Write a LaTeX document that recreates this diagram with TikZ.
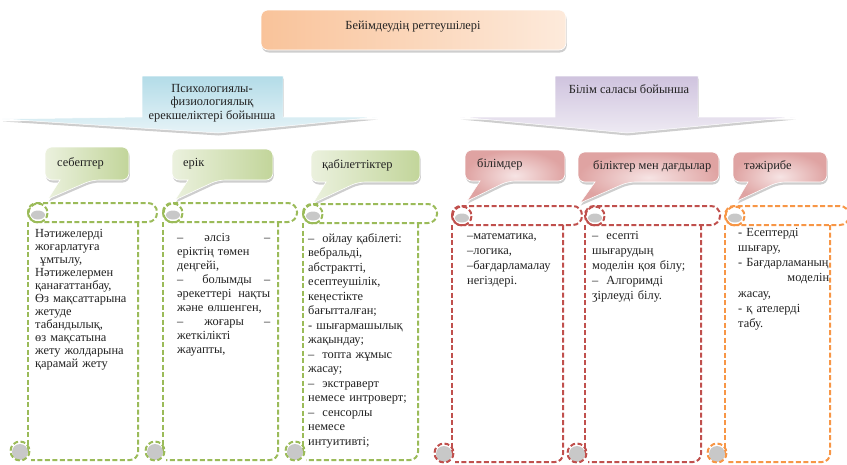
\documentclass[tikz,border=0pt]{standalone}
\usepackage{fontspec}
\setmainfont{Liberation Serif}
\usetikzlibrary{shadows}
\definecolor{grn}{HTML}{9BBB59}
\definecolor{redd}{HTML}{C0504D}
\definecolor{orng}{HTML}{F79646}
\definecolor{peachA}{HTML}{F9C39A}
\definecolor{peachB}{HTML}{FDEADB}
\definecolor{blueA}{HTML}{B3DCE8}
\definecolor{blueB}{HTML}{E6F3F7}
\definecolor{lavA}{HTML}{CFC3DE}
\definecolor{lavB}{HTML}{EEEAF3}
\definecolor{grA}{HTML}{EBF1DE}
\definecolor{grB}{HTML}{C2D59A}
\definecolor{rdA}{HTML}{F6E4E4}
\definecolor{rdB}{HTML}{DFA3A2}
\definecolor{curlgray}{HTML}{C8C8C8}
\definecolor{ink}{HTML}{222222}
\tikzset{
  txt/.style={font=\fontsize{12.4}{13}\selectfont, inner sep=0pt, anchor=base west, align=left, text=ink},
  scrl/.style={line width=2pt, dash pattern=on 5pt off 2.5pt},
  shad/.style={drop shadow={opacity=0.35, shadow xshift=0.8pt, shadow yshift=-2.5pt, fill=black!55}},
  greenbub/.style={shad, left color=grA, right color=grB, draw=white, line width=0.6pt},
  redbub/.style={shad, inner color=rdA, outer color=rdB, draw=white, line width=0.6pt},
}
% bubble: x0 y0 x1 y1 b1 b2 tipx tipy style
\newcommand\bubblepath[9]{%
  \path[#9, rounded corners=7] (#1,#2) -- (#3,#2) -- (#3,#4) -- (#6,#4) [sharp corners] -- (#7,#8) -- (#5,#4) [rounded corners=7] -- (#1,#4) -- cycle;}
% scroll: L R T B colour
\newcommand\scrollshape[5]{%
  \begin{scope}[draw=#5, scrl]
    \draw[rounded corners=9] (#1,#3) rectangle ({#2+19},{#3+19});
    \fill[curlgray] ({#1+10},{#3+12}) ellipse [x radius=7, y radius=4.5];
    \draw ({#1+10},{#3+10}) circle [radius=9.5];
    \draw ({#1},{#3+19}) -- ({#1},{#4-6});
    \draw[rounded corners=8] ({#2},{#3+19}) -- ({#2},{#4}) -- ({#1+3},{#4});
    \fill[curlgray] ({#1-8},{#4-8}) circle [radius=8];
    \draw ({#1-8},{#4-9}) circle [radius=9.5];
  \end{scope}}
\begin{document}
\begin{tikzpicture}[x=1pt,y=-1pt]
\useasboundingbox (0,0) rectangle (847,464);

% title
\path[shad, left color=peachA, right color=peachB, draw=white, line width=0.6pt, rounded corners=7] (261,10) rectangle (566,50);
\node[txt, anchor=base] (title) at (413,29) {Бейімдеудің реттеушілері};

% arrow callouts
\path[shad, top color=blueA, bottom color=blueB, draw=white, line width=0.5pt]
  (142,76) -- (283,76) -- (283,117) -- (377,117) -- (218,133) -- (2,119) -- (142,117) -- cycle;
\node[txt, anchor=base, align=center, font=\fontsize{12.4}{13.5}\selectfont] (psy) at (212,119)
  {Психологиялы-\\физиологиялық\\ерекшеліктері бойынша};
\path[shad, top color=lavA, bottom color=lavB, draw=white, line width=0.5pt]
  (555,76) -- (698,76) -- (698,117) -- (795,117) -- (627,133) -- (460,117) -- (555,117) -- cycle;
\node[txt, anchor=base] (bil) at (629,93) {Білім саласы бойынша};

% speech bubbles
\bubblepath{45}{147}{129}{180}{60}{92}{48}{199}{greenbub}
\node[txt] (sebep) at (57,166) {себептер};
\bubblepath{172}{149}{273}{180}{188}{218}{175}{200}{greenbub}
\node[txt] (erik) at (183,166) {ерік};
\bubblepath{311}{150}{420}{182}{326}{358}{313}{203}{greenbub}
\node[txt] (kabil) at (322,168) {қабілеттіктер};
\bubblepath{465}{150}{565}{181}{480}{508}{467}{201}{redbub}
\node[txt] (bilim) at (477,167) {білімдер};
\bubblepath{578}{152}{719}{182}{595}{628}{580}{203}{redbub}
\node[txt] (bilik) at (593,169) {біліктер мен дағдылар};
\bubblepath{733}{152}{827}{182}{748}{778}{737}{201}{redbub}
\node[txt] (tazh) at (744,169) {тәжірибе};

% scrolls
\scrollshape{28}{138}{203}{460}{grn}
\scrollshape{163}{278}{203}{460}{grn}
\scrollshape{303}{418}{204}{460}{grn}
\scrollshape{452}{563}{206}{462}{redd}
\scrollshape{585}{701}{206}{462}{redd}
\scrollshape{725}{830}{206}{462}{orng}

% scroll texts
\node[txt, text width=100pt] (t1) at (35,237)
{Нәтижелерді\\жоғарлатуға\\\hspace*{5pt}ұмтылу,\\Нәтижелермен\\қанағаттанбау,\\Өз мақсаттарына\\жетуде\\табандылық,\\өз мақсатына\\жету жолдарына\\қарамай жету};

\node[txt, text width=93pt, font=\fontsize{12.4}{14}\selectfont] (t2) at (177,241)
{–\hspace{21pt}әлсіз\hfill–\\еріктің төмен\\деңгейі,\\–\hspace{19pt}болымды\hfill–\\әрекеттері\hfill нақты\\және өлшенген,\\–\hspace{21pt}жоғары\hfill–\\жеткілікті\\жауапты,};

\node[txt, text width=105pt, font=\fontsize{12.4}{14.5}\selectfont] (t3) at (308,242)
{–\hspace{8pt}ойлау қабілеті:\\вебральді,\\абстрактті,\\есептеушілік,\\кеңестікте\\бағытталған;\\- шығармашылық\\жақындау;\\–\hspace{8pt}топта жұмыс\\жасау;\\–\hspace{8pt}экстраверт\\немесе интроверт;\\–\hspace{8pt}сенсорлы\\немесе\\интуитивті;};

\node[txt, text width=95pt, font=\fontsize{12.4}{15}\selectfont] (t4) at (467,239)
{–математика,\\–логика,\\–бағдарламалау\\негіздері.};

\node[txt, text width=105pt, font=\fontsize{12.4}{15}\selectfont] (t5) at (592,239)
{–\hspace{8pt}есепті\\шығарудың\\моделін қоя білу;\\–\hspace{8pt}Алгоримді\\ӡірлеуді білу.};

\node[txt, text width=91pt, font=\fontsize{12.4}{15.3}\selectfont] (t6) at (738,236)
{- Есептерді\\шығару,\\\mbox{- Бағдарламаның}\\\hspace*{0pt}\hfill моделін\\жасау,\\- қ ателерді\\табу.};

\end{tikzpicture}
\end{document}
